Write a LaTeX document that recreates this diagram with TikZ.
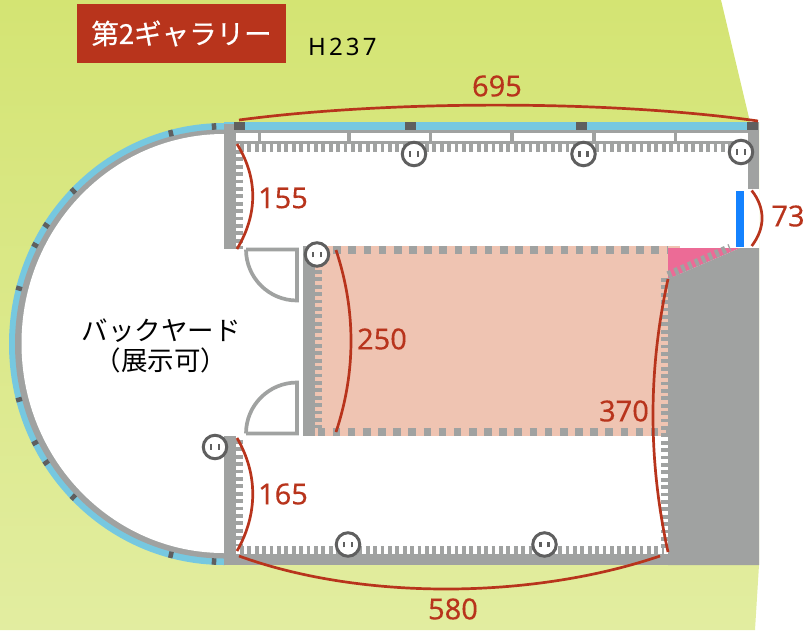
\documentclass[tikz,border=0pt]{standalone}
\usepackage{fontspec}
\setmainfont{Noto Sans}
\newfontfamily\cjk{Noto Sans CJK JP}
\newfontfamily\cjkheavy[FakeBold=0.6]{Noto Sans CJK JP}
\newfontfamily\spaced[LetterSpace=13]{Noto Sans}
\newfontfamily\dimfont[FakeBold=0.2]{Noto Sans}
\definecolor{wallgrey}{RGB}{160,162,161}
\definecolor{darkgrey}{RGB}{95,95,95}
\definecolor{glass}{RGB}{118,200,224}
\definecolor{dimred}{RGB}{184,52,28}
\definecolor{salmon}{RGB}{239,196,178}
\definecolor{pinkarea}{RGB}{236,107,150}
\definecolor{barblue}{RGB}{20,130,255}
\definecolor{lawntop}{RGB}{212,228,115}
\definecolor{lawnbottom}{RGB}{226,237,160}
\newcommand{\outletmarks}{\textcolor{darkgrey}{\rule{2.5pt}{5.5pt}\hspace{5.5pt}\rule{2.5pt}{5.5pt}}}
\begin{document}
\begin{tikzpicture}[
  x=1pt, y=-1pt,
  wall/.style={fill=wallgrey},
  hatch/.style={draw=wallgrey, line width=7.5pt, dash pattern=on 3.7pt off 3.7pt},
  squares/.style={draw=wallgrey, line width=7.8pt, dash pattern=on 7.6pt off 7.55pt},
  door/.style={draw=wallgrey, line width=3.7pt, fill=white, line join=miter},
  outlet/.style={circle, draw=darkgrey, line width=3pt, fill=white, minimum size=23.5pt, inner sep=0pt},
  dimline/.style={draw=dimred, line width=2.7pt},
  dimlabel/.style={text=dimred, font=\dimfont\fontsize{29}{30}\selectfont, inner sep=0pt}
]
\useasboundingbox (0,0) rectangle (811,630);
\shade[top color=lawntop, bottom color=lawnbottom]
  (0,0) -- (721,0) -- (750,122) -- (759,122) -- (759,565) -- (755,630) -- (0,630) -- cycle;
\fill[glass] (224,344) ellipse [x radius=215, y radius=221];
\fill[wallgrey] (224,344) ellipse [x radius=209, y radius=214.5];
\fill[white] (224,343.5) ellipse [x radius=202.5, y radius=209.5];
\foreach \a in {92.7,104.5,135.3,147,153,165.2} {
  \draw[darkgrey, line width=4.5pt] ({224+209*cos(\a)},{344-214.5*sin(\a)}) -- ({224+215*cos(\a)},{344-221*sin(\a)});
  \draw[darkgrey, line width=4.5pt] ({224+209*cos(\a)},{344+214.5*sin(\a)}) -- ({224+215*cos(\a)},{344+221*sin(\a)});
}
\fill[white] (224,122) rectangle (759,565);
\fill[salmon] (315,246) rectangle (680,436);
\fill[pinkarea] (668,248) -- (740,248) -- (668,279) -- cycle;
\fill[glass] (224,122) rectangle (750,130);
\fill[wall] (224,124) rectangle (236,249);
\fill[wall] (224,436) rectangle (236,565);
\fill[wall] (224,554) rectangle (759,565);
\fill[wall] (303,246) rectangle (315,436);
\fill[wall] (748,122) rectangle (759,189);
\fill[wall] (236,129.5) rectangle (748,133);
\fill[wall] (236,140.5) rectangle (748,144);
\foreach \x in {257.5,347,428.5,510,592,673.5}
  \fill[wall] (\x,133) rectangle (\x+3.5,141);
\fill[wall] (759,248) -- (740,248) -- (668,279) -- (668,565) -- (759,565) -- cycle;
\foreach \x in {234,405,576,747}
  \fill[darkgrey] (\x,122) rectangle (\x+11,129.5);
\draw[hatch] (240,147.8) -- (730,147.8);
\draw[hatch] (239.5,150) -- (239.5,249);
\draw[hatch] (239.5,440) -- (239.5,546);
\draw[hatch] (240,550) -- (664,550);
\draw[hatch] (318.5,270) -- (318.5,428);
\draw[hatch] (665,278) -- (665,550);
\draw[hatch] (668,275) -- (730,247.5);
\draw[squares] (333.3,250) -- (668,250);
\draw[squares] (317.5,432) -- (668,432);
\fill[barblue] (736,191) rectangle (744,247);
\draw[door] (246,249.5) -- (297,249.5) -- (297,300.5) arc (90:180:51);
\draw[door] (246,433.5) -- (297,433.5) -- (297,382.5) arc (-90:-180:51);
\node[outlet] (outleta) at (414,154) {\outletmarks};
\node[outlet] (outletb) at (583.5,154) {\outletmarks};
\node[outlet] (outletc) at (741,152) {\outletmarks};
\node[outlet] (outletd) at (317,254.5) {\outletmarks};
\node[outlet] (outlete) at (215,447) {\outletmarks};
\node[outlet] (outletf) at (348,544.5) {\outletmarks};
\node[outlet] (outletg) at (544.5,544.5) {\outletmarks};
\draw[dimline] (239,120) .. controls (390,100) and (610,100) .. (758,121);
\draw[dimline] (237,144) .. controls (258,178) and (258,214) .. (237,249);
\draw[dimline] (336,250) .. controls (356,310) and (356,372) .. (336,432);
\draw[dimline] (237,438) .. controls (258,474) and (258,514) .. (237,551);
\draw[dimline] (668,279) .. controls (648,370) and (648,460) .. (668,552);
\draw[dimline] (239,556) .. controls (360,600) and (530,600) .. (660,556);
\draw[dimline] (751.7,190.5) .. controls (765.5,208) and (765.5,228) .. (751.7,246);
\node[dimlabel] (lengtha) at (497,86) {695};
\node[dimlabel] (lengthb) at (283,198) {155};
\node[dimlabel] (lengthc) at (788,216) {73};
\node[dimlabel] (lengthd) at (382,339) {250};
\node[dimlabel] (lengthe) at (283,494) {165};
\node[dimlabel] (lengthf) at (624,411) {370};
\node[dimlabel] (lengthg) at (453,609) {580};
\node[fill=dimred, minimum width=209pt, minimum height=59pt, inner sep=0pt, text=white, font=\cjkheavy\fontsize{27.5}{30}\selectfont] (title) at (181.5,33.5) {第2ギャラリー};
\node[inner sep=0pt, anchor=west, font=\spaced\fontsize{24}{26}\selectfont] (height) at (308,47) {H237};
\node[inner sep=0pt, align=center, font=\cjk\fontsize{26.5}{30}\selectfont] (backyard) at (161,346) {バックヤード\\（展示可）};
\end{tikzpicture}
\end{document}
